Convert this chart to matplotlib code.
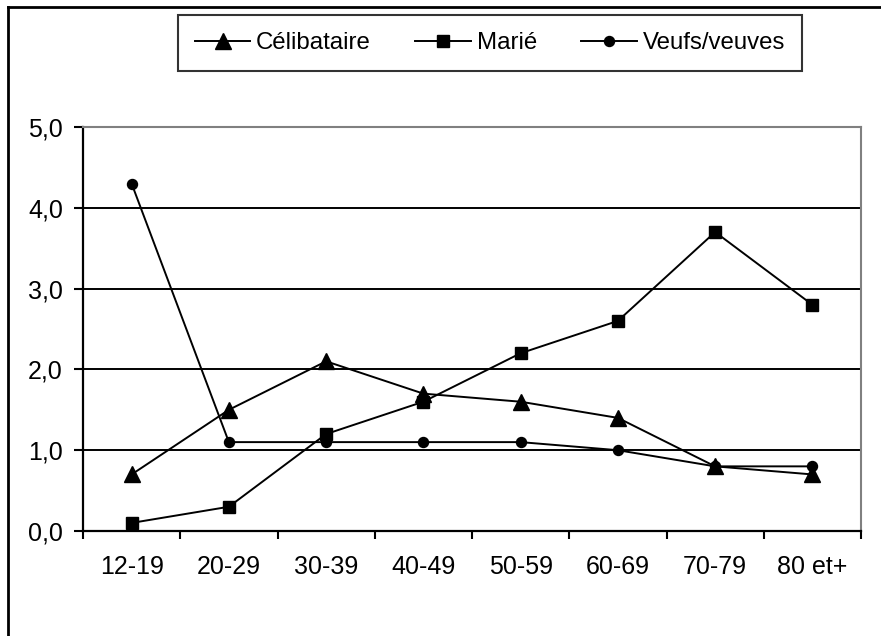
import matplotlib
matplotlib.use("Agg")
import matplotlib.pyplot as plt
from matplotlib.lines import Line2D
import numpy as np

plt.rcParams['font.family'] = ['Liberation Sans', 'DejaVu Sans']

categories = ["12-19", "20-29", "30-39", "40-49", "50-59", "60-69", "70-79", "80 et+"]
celibataire = [0.7, 1.5, 2.1, 1.7, 1.6, 1.4, 0.8, 0.7]
marie = [0.1, 0.3, 1.2, 1.6, 2.2, 2.6, 3.7, 2.8]
veufs = [4.3, 1.1, 1.1, 1.1, 1.1, 1.0, 0.8, 0.8]
yticks = [0, 1, 2, 3, 4, 5]
ytick_labels = ["0,0", "1,0", "2,0", "3,0", "4,0", "5,0"]

W, H = 881, 636
fig = plt.figure(figsize=(W / 100, H / 100), dpi=100)
fig.patch.set_facecolor("white")

ax = fig.add_axes([83 / W, 1 - 531 / H, (861 - 83) / W, (531 - 127) / H])
x = np.arange(len(categories))

lw = 1.4
ax.plot(x, celibataire, color="black", lw=lw, marker="^", markersize=11, label="Célibataire", zorder=3, clip_on=False)
ax.plot(x, marie, color="black", lw=lw, marker="s", markersize=9, label="Marié", zorder=4, clip_on=False)
ax.plot(x, veufs, color="black", lw=lw, marker="o", markersize=7.2, label="Veufs/veuves", zorder=5, clip_on=False)

ax.set_xlim(-0.5, len(categories) - 0.5)
ax.set_ylim(0, 5)
ax.set_yticks(yticks)
ax.set_yticklabels(ytick_labels, fontsize=18)
ax.set_xticks(x)
ax.set_xticklabels(categories, fontsize=18)
ax.set_xticks(np.arange(len(categories) + 1) - 0.5, minor=True)
ax.tick_params(axis="x", which="major", length=0, pad=17)
ax.tick_params(axis="x", which="minor", length=6, width=1.5, direction="out", color="black")
ax.tick_params(axis="y", which="major", length=6.5, width=1.5, direction="out", color="black", pad=8)

for yv in yticks[1:-1]:
    ax.axhline(yv, color="black", lw=1.4, zorder=1)

for side in ["top", "right"]:
    ax.spines[side].set_color("#808080")
    ax.spines[side].set_linewidth(1.5)
for side in ["left", "bottom"]:
    ax.spines[side].set_color("black")
    ax.spines[side].set_linewidth(1.6)

leg = fig.legend(loc="center", bbox_to_anchor=((177 + 803) / 2 / W, 1 - 43 / H), ncol=3,
                 fontsize=17.3, frameon=True, fancybox=False, handlelength=2.3,
                 handletextpad=0.25, columnspacing=1.85, borderpad=0.7, borderaxespad=0)
leg.get_frame().set_edgecolor("black")
leg.get_frame().set_linewidth(1.5)

# outer chart frame
fig.add_artist(Line2D([8 / W, 1.0], [1 - 7 / H, 1 - 7 / H], transform=fig.transFigure, color="black", lw=2))
fig.add_artist(Line2D([8 / W, 8 / W], [0.0, 1 - 7 / H], transform=fig.transFigure, color="black", lw=2))

fig.savefig("out.png", dpi=100, facecolor="white")
